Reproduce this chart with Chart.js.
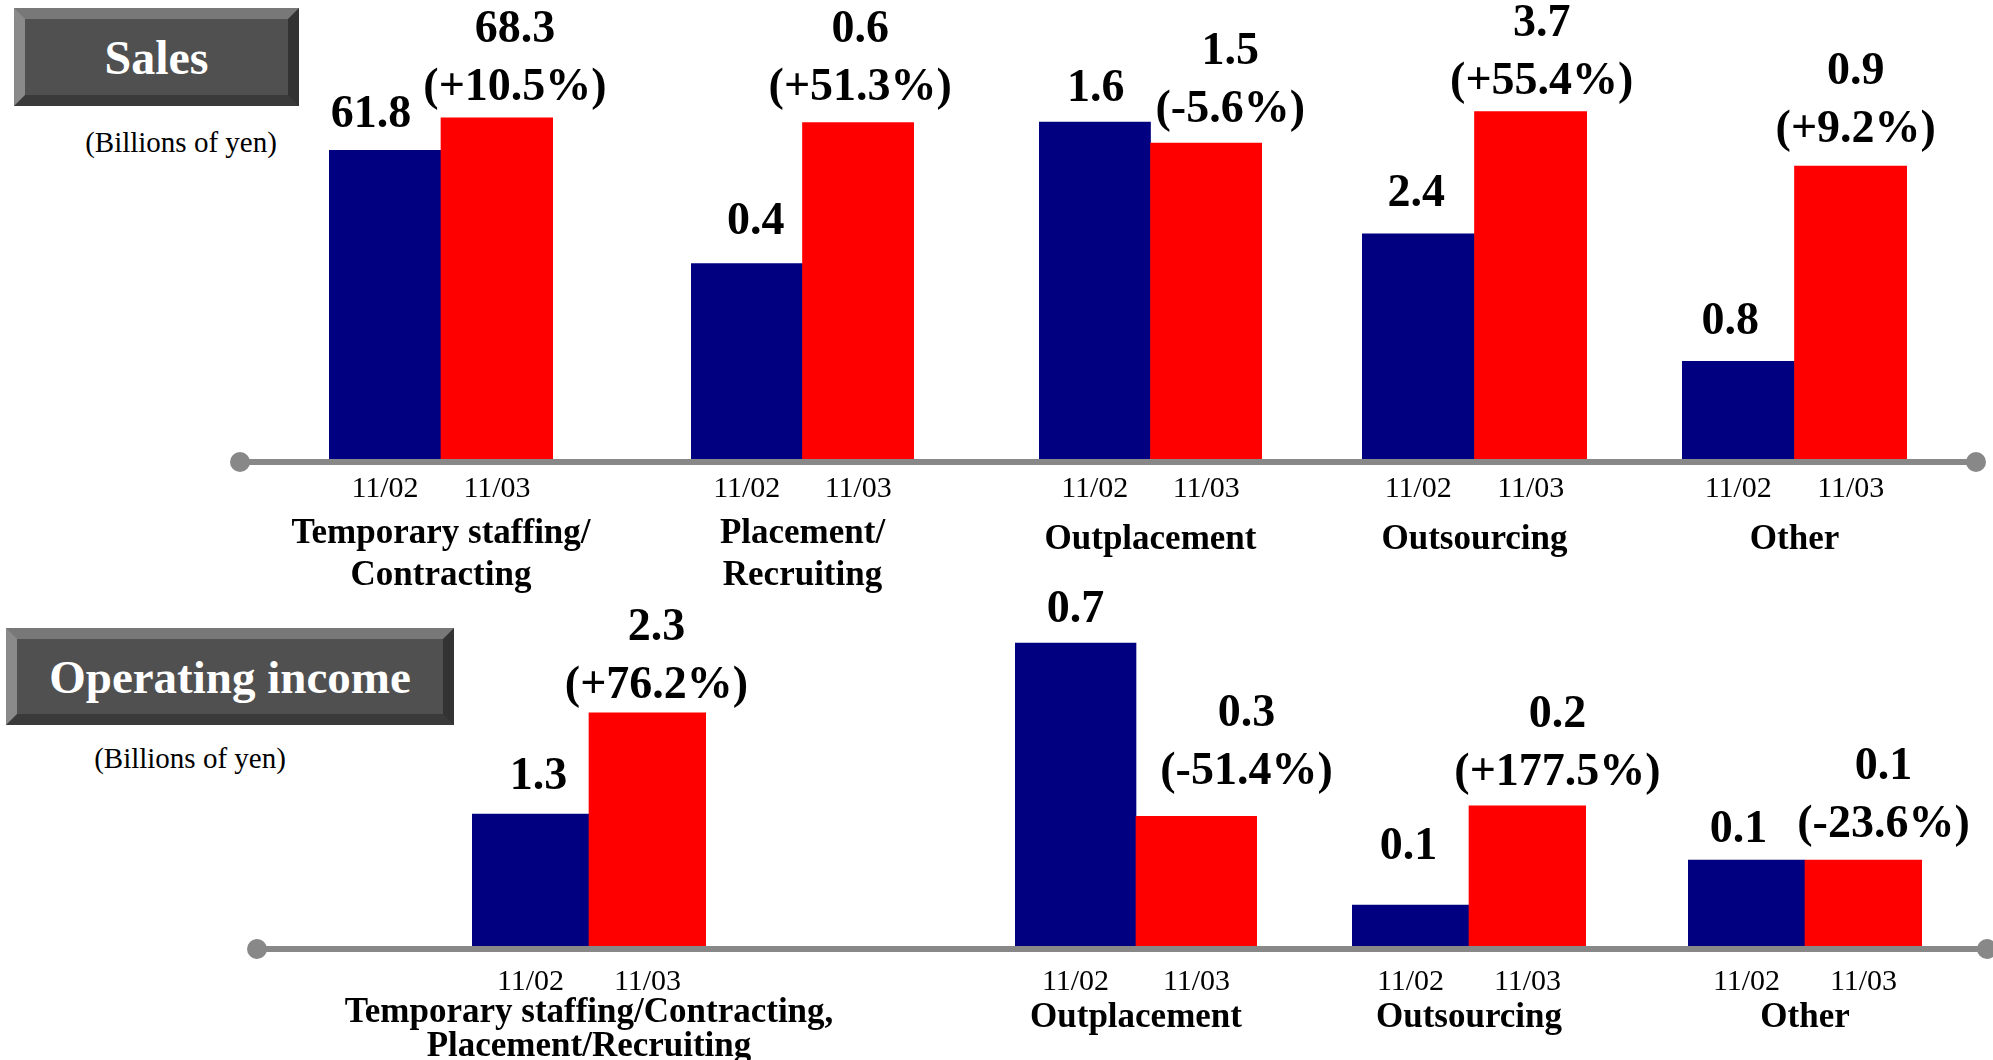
<!DOCTYPE html>
<html>
<head>
<meta charset="utf-8">
<title>Sales and operating income by segment</title>
<script src="https://cdn.jsdelivr.net/npm/chart.js@4.4.1/dist/chart.umd.min.js"></script>
<style>
  html, body { margin: 0; padding: 0; background: #fff; }
  body { width: 1993px; height: 1060px; position: relative; overflow: hidden; font-family: 'Liberation Serif', 'Times New Roman', serif; }
  .box { position: absolute; box-sizing: border-box; border-style: solid; border-width: 11px;
         border-color: #787878 #333333 #3a3a3a #8a8a8a; background: #505050; color: #fff;
         font-weight: bold; display: flex; align-items: center; justify-content: center; }
  .unit { position: absolute; width: 260px; text-align: center; font-size: 29px; line-height: 30px; color: #000; }
  .axisline { position: absolute; height: 6px; background: #888; }
  .axisline:before, .axisline:after { content: ''; position: absolute; width: 20px; height: 20px; border-radius: 50%; background: #888; top: -7px; }
  .axisline:before { left: -10px; }
  .axisline:after { right: -10px; }
  canvas { position: absolute; }
</style>
</head>
<body>

<div class="box" style="left:14px; top:8px; width:285px; height:98px; font-size:48px;">Sales</div>
<div class="unit" style="left:51px; top:127px;">(Billions of yen)</div>
<div class="axisline" style="left:240px; top:459px; width:1736px;"></div>

<div class="box" style="left:6px; top:628px; width:448px; height:97px; font-size:47px;">Operating income</div>
<div class="unit" style="left:60px; top:743px;">(Billions of yen)</div>
<div class="axisline" style="left:257px; top:946px; width:1730px;"></div>

<script>
// periods and segments
const periods = ['11/02', '11/03'];

const salesSegments = [['Temporary staffing/', 'Contracting'], ['Placement/', 'Recruiting'], ['Outplacement'], ['Outsourcing'], ['Other']];
const sales1102 = [61.8, 0.4, 1.6, 2.4, 0.8];
const sales1103 = [68.3, 0.6, 1.5, 3.7, 0.9];
const salesChange = ['+10.5%', '+51.3%', '-5.6%', '+55.4%', '+9.2%'];

const incomeSegments = [['Temporary staffing/Contracting,', 'Placement/Recruiting'], ['Outplacement'], ['Outsourcing'], ['Other']];
const income1102 = [1.3, 0.7, 0.1, 0.1];
const income1103 = [2.3, 0.3, 0.2, 0.1];
const incomeChange = ['+76.2%', '-51.4%', '+177.5%', '-23.6%'];

// every segment has its own y range in the original slide
const salesRange = [[0, 91.9], [0.123, 0.774], [0, 2.18], [0, 4.89], [0.75, 0.985]];
const incomeRange = [[0, 3.61], [0, 0.846], [0.0586, 0.428], [0, 0.426]];

// where each pair of bars sits, and nudges for the value labels [dx, gap above bar]
const salesLayout = [
    { left: 329, width: 224, shift: [[-14, 35], [18, 30]] },
    { left: 691, width: 223, shift: [[9, 42], [2, 35]] },
    { left: 1039, width: 223, shift: [[1, 33], [24, 33]] },
    { left: 1362, width: 225, shift: [[-2, 40], [11, 30]] },
    { left: 1682, width: 225, shift: [[-8, 39], [5, 36]] }
];
const incomeLayout = [
    { left: 472, width: 234, shift: [[8, 37], [9, 27]] },
    { left: 1015, width: 242, shift: [[0, 33], [50, 44]] },
    { left: 1352, width: 234, shift: [[-2, 58], [30, 33]] },
    { left: 1688, width: 234, shift: [[-8, 30], [20, 35]] }
];

const salesPanel = { top: 0, height: 620, plotBottom: 459, tickPad: 12, nameY: { 1: [540], 2: [534, 576] } };
const incomePanel = { top: 580, height: 480, plotBottom: 366, tickPad: 18, nameY: { 1: [438], 2: [433, 467] } };

const FONT = "'Liberation Serif', 'Times New Roman', serif";
const PAD = 260;

const segmentLabels = {
    id: 'segmentLabels',
    afterDatasetsDraw(chart, args, opts) {
        const ctx = chart.ctx;
        const bars = chart.getDatasetMeta(0).data;
        ctx.save();
        ctx.fillStyle = '#000';
        ctx.textAlign = 'center';
        ctx.textBaseline = 'middle';
        ctx.font = 'bold 46px ' + FONT;
        bars.forEach((bar, i) => {
            const lines = opts.values[i];
            const [dx, gap] = opts.shift[i];
            lines.forEach((t, j) => {
                ctx.fillText(t, bar.x + dx, bar.y - gap - (lines.length - 1 - j) * 58);
            });
        });
        ctx.font = 'bold 35px ' + FONT;
        const cx = (chart.chartArea.left + chart.chartArea.right) / 2;
        const ys = opts.nameY[opts.name.length];
        opts.name.forEach((t, j) => ctx.fillText(t, cx, ys[j]));
        ctx.restore();
    }
};

function drawSegment(panel, layout, name, v1, v2, change, range) {
    const canvas = document.createElement('canvas');
    canvas.width = layout.width + 2 * PAD;
    canvas.height = panel.height;
    canvas.style.left = (layout.left - PAD) + 'px';
    canvas.style.top = panel.top + 'px';
    document.body.appendChild(canvas);

    new Chart(canvas.getContext('2d'), {
        type: 'bar',
        data: {
            labels: periods,
            datasets: [{
                data: [v1, v2],
                backgroundColor: ['#000080', '#ff0000'],
                borderWidth: 0,
                barPercentage: 1,
                categoryPercentage: 1
            }]
        },
        options: {
            responsive: false,
            animation: false,
            layout: { padding: { left: PAD, right: PAD, top: 0, bottom: 0 } },
            scales: {
                x: {
                    grid: { display: false, drawTicks: false },
                    border: { display: false },
                    ticks: { color: '#000', padding: panel.tickPad, maxRotation: 0, font: { family: FONT, size: 30 } },
                    afterFit: (s) => { s.height = panel.height - panel.plotBottom; }
                },
                y: { display: false, min: range[0], max: range[1] }
            },
            plugins: {
                legend: { display: false },
                tooltip: { enabled: false },
                segmentLabels: {
                    values: [[v1.toFixed(1)], [v2.toFixed(1), '(' + change + ')']],
                    shift: layout.shift,
                    name: name,
                    nameY: panel.nameY
                }
            }
        },
        plugins: [segmentLabels]
    });
}

salesSegments.forEach((name, i) => {
    drawSegment(salesPanel, salesLayout[i], name, sales1102[i], sales1103[i], salesChange[i], salesRange[i]);
});
incomeSegments.forEach((name, i) => {
    drawSegment(incomePanel, incomeLayout[i], name, income1102[i], income1103[i], incomeChange[i], incomeRange[i]);
});
</script>
</body>
</html>
